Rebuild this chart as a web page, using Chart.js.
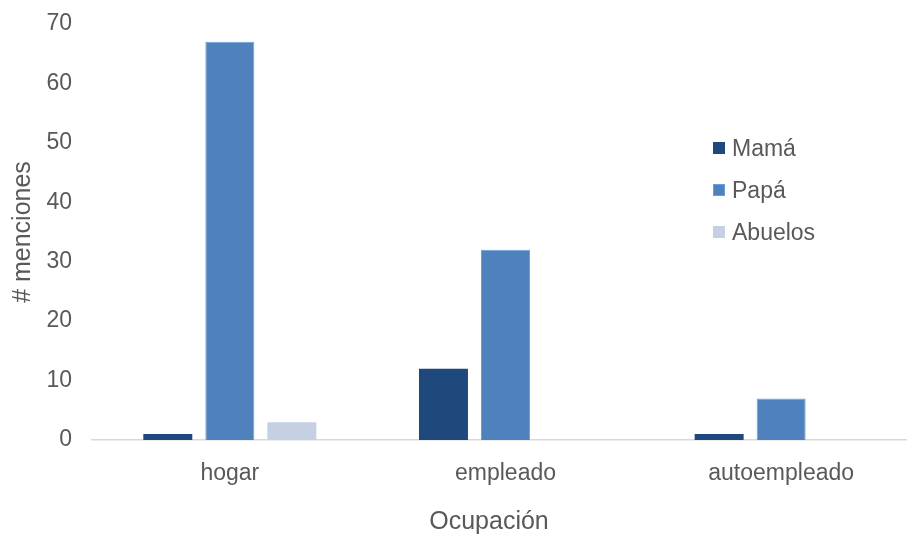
<!DOCTYPE html>
<html>
<head>
<meta charset="utf-8">
<script src="https://cdn.jsdelivr.net/npm/chart.js@4/dist/chart.umd.min.js"></script>
<style>
  html, body { margin: 0; padding: 0; background: #fff; overflow: hidden; }
  #wrap { position: relative; width: 919px; height: 535px; }
</style>
</head>
<body>
<div id="wrap"><canvas id="c"></canvas></div>
<script>
const categories = ['hogar', 'empleado', 'autoempleado'];
const mama = [1, 12, 1];
const papa = [67, 32, 7];
const abuelos = [3, 0, 0];
const seriesNames = ['Mamá', 'Papá', 'Abuelos'];
const yTitle = '# menciones';
const xTitle = 'Ocupación';

const textColor = '#595959';
const fontFamily = '"Liberation Sans", Arial, sans-serif';

// Axis titles and the in-plot legend
const decorations = {
  id: 'decorations',
  afterDraw(chart) {
    const ctx = chart.ctx;
    ctx.save();
    ctx.fillStyle = textColor;
    ctx.font = '25px ' + fontFamily;
    ctx.textAlign = 'center';
    ctx.textBaseline = 'middle';
    ctx.fillText(xTitle, 489, 522);
    ctx.save();
    ctx.translate(23, 232);
    ctx.rotate(-Math.PI / 2);
    ctx.fillText(yTitle, 0, 0);
    ctx.restore();

    // legend
    ctx.font = '23px ' + fontFamily;
    ctx.textAlign = 'left';
    chart.data.datasets.forEach((ds, i) => {
      const cy = 148 + i * 42;
      const bx = 713, size = 12;
      ctx.fillStyle = ds.backgroundColor;
      ctx.fillRect(bx, cy - size / 2, size, size);
      if (ds.borderWidth) {
        ctx.strokeStyle = ds.borderColor;
        ctx.lineWidth = 1;
        ctx.strokeRect(bx + 0.5, cy - size / 2 + 0.5, size - 1, size - 1);
      }
      ctx.fillStyle = textColor;
      ctx.fillText(ds.label, 732, cy + 2);
    });
    ctx.restore();
  }
};

new Chart(document.getElementById('c'), {
  type: 'bar',
  data: {
    labels: categories,
    datasets: [
      { label: seriesNames[0], data: mama, backgroundColor: '#1F497D', borderWidth: 0 },
      { label: seriesNames[1], data: papa, backgroundColor: '#4F81BD', borderColor: '#6A9FDE', borderWidth: 1 },
      { label: seriesNames[2], data: abuelos, backgroundColor: '#C5D0E3', borderWidth: 0 }
    ]
  },
  options: {
    responsive: true,
    maintainAspectRatio: false,
    animation: false,
    layout: { padding: { top: 24, left: 0, right: 0, bottom: 0 } },
    categoryPercentage: 0.675,
    barPercentage: 0.79,
    plugins: { legend: { display: false }, tooltip: { enabled: false } },
    scales: {
      x: {
        grid: { display: false, drawTicks: false },
        border: { display: true, color: '#D9D9D9', width: 1.5 },
        ticks: { color: textColor, font: { size: 23, family: fontFamily }, padding: 20 },
        afterFit(scale) { scale.height = 95; }
      },
      y: {
        min: 0,
        max: 70,
        grid: { display: false, drawTicks: false },
        border: { display: false },
        ticks: { stepSize: 10, color: textColor, font: { size: 23, family: fontFamily }, padding: 20 },
        afterFit(scale) {
          scale.width = 92;
          // the top/bottom labels may overhang the plot; keep the plot edges fixed
          scale.paddingTop = 0;
          scale.paddingBottom = 0;
        }
      }
    }
  },
  plugins: [decorations]
});
</script>
</body>
</html>
